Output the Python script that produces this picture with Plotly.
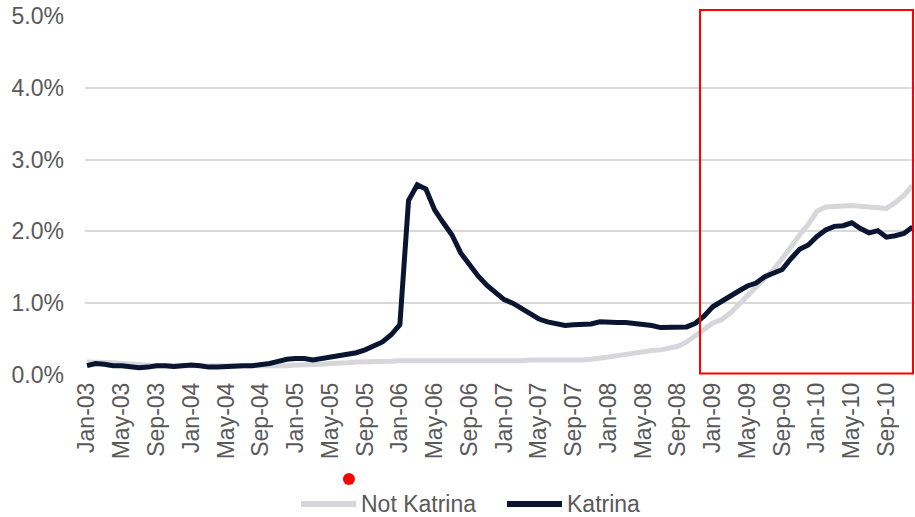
import pandas as pd
import plotly.graph_objects as go

# Monthly share (%) Jan-2003 .. Dec-2010
months = pd.date_range("2003-01-01", "2010-12-01", freq="MS").strftime("%b-%y").tolist()

katrina = [
    0.13, 0.16, 0.15, 0.13, 0.13, 0.11, 0.10, 0.11, 0.13, 0.13, 0.12, 0.13,
    0.14, 0.13, 0.11, 0.11, 0.12, 0.12, 0.13, 0.13, 0.14, 0.16, 0.19, 0.22,
    0.23, 0.23, 0.21, 0.23, 0.25, 0.26, 0.28, 0.31, 0.35, 0.40, 0.46, 0.56,
    0.70, 2.43, 2.65, 2.59, 2.30, 2.12, 1.95, 1.70, 1.53, 1.38, 1.25, 1.16,
    1.05, 1.00, 0.93, 0.87, 0.78, 0.74, 0.71, 0.69, 0.70, 0.70, 0.71, 0.74,
    0.73, 0.73, 0.73, 0.72, 0.70, 0.69, 0.66, 0.66, 0.67, 0.67, 0.72, 0.82,
    0.95, 1.03, 1.09, 1.17, 1.24, 1.28, 1.37, 1.42, 1.47, 1.62, 1.75, 1.81,
    1.93, 2.02, 2.07, 2.08, 2.12, 2.04, 1.98, 2.01, 1.92, 1.94, 1.97, 2.06,
]

not_katrina = [
    0.18, 0.18, 0.18, 0.17, 0.16, 0.15, 0.14, 0.13, 0.13, 0.13, 0.13, 0.12,
    0.12, 0.12, 0.12, 0.12, 0.12, 0.12, 0.12, 0.12, 0.12, 0.12, 0.13, 0.13,
    0.14, 0.14, 0.15, 0.15, 0.16, 0.16, 0.17, 0.18, 0.18, 0.19, 0.19, 0.19,
    0.20, 0.20, 0.20, 0.20, 0.20, 0.19, 0.19, 0.19, 0.19, 0.19, 0.19, 0.19,
    0.20, 0.20, 0.20, 0.21, 0.21, 0.21, 0.20, 0.20, 0.21, 0.21, 0.22, 0.23,
    0.25, 0.27, 0.29, 0.31, 0.33, 0.34, 0.35, 0.37, 0.40, 0.46, 0.54, 0.64,
    0.72, 0.77, 0.86, 0.98, 1.10, 1.22, 1.35, 1.47, 1.62, 1.80, 1.95, 2.10,
    2.28, 2.34, 2.35, 2.35, 2.36, 2.35, 2.34, 2.33, 2.32, 2.40, 2.50, 2.64,
]

y_ticks = [0, 1, 2, 3, 4, 5]
x_tick_step = 4

DARK = "#0A1631"
GREY = "#D7D6DB"
TEXT = "#595959"
FONT = "Arial, Liberation Sans, sans-serif"

idx = list(range(len(months)))

fig = go.Figure()
fig.add_trace(go.Scatter(x=idx, y=not_katrina, mode="lines", name="Not Katrina",
                         line=dict(color=GREY, width=5), showlegend=False))
fig.add_trace(go.Scatter(x=idx, y=katrina, mode="lines", name="Katrina",
                         line=dict(color=DARK, width=5), showlegend=False))

fig.update_layout(
    width=915, height=517,
    margin=dict(l=85, r=0, t=16, b=142),
    paper_bgcolor="white", plot_bgcolor="white",
    font=dict(family=FONT, size=23, color=TEXT),
)
fig.update_xaxes(
    range=[-0.23, 95.28],
    tickvals=idx[::x_tick_step], ticktext=months[::x_tick_step],
    tickangle=-90, showgrid=False, zeroline=False,
    showline=False, ticks="", ticklabelstandoff=2,
    tickfont=dict(size=23, color=TEXT),
)
fig.update_yaxes(
    range=[0, 5], tickvals=y_ticks,
    ticktext=[f"{v:.1f}%" for v in y_ticks],
    showgrid=True, gridcolor="#D9D9D9", gridwidth=1.5,
    zeroline=False, ticks="", ticklabelstandoff=20,
    tickfont=dict(size=23, color=TEXT),
)

# highlight box over 2009-2010
fig.add_shape(type="rect", xref="paper", yref="paper",
              x0=0.741, x1=0.9976, y0=0.004, y1=1.0167,
              line=dict(color="#FF0000", width=2), fillcolor="rgba(0,0,0,0)")

# marker for the landfall month under the axis
fig.add_shape(type="circle", xref="paper", yref="paper",
              x0=0.318 - 0.0072, x1=0.318 + 0.0072,
              y0=-0.2897 - 0.0167, y1=-0.2897 + 0.0167,
              line=dict(width=0), fillcolor="#FF0000")

# legend keys
leg_y = (375 - 504) / 359
for (x0, x1, color, label) in [(301, 356, GREY, "Not Katrina"), (507, 562, DARK, "Katrina")]:
    fig.add_shape(type="line", xref="paper", yref="paper",
                  x0=(x0 - 85) / 830, x1=(x1 - 85) / 830, y0=leg_y, y1=leg_y,
                  line=dict(color=color, width=6))
    fig.add_annotation(xref="paper", yref="paper", x=(x1 + 4 - 85) / 830, y=leg_y,
                       text=label, showarrow=False, xanchor="left", yanchor="middle",
                       borderpad=0, font=dict(size=23, color=TEXT))

fig.write_html("out.html")
